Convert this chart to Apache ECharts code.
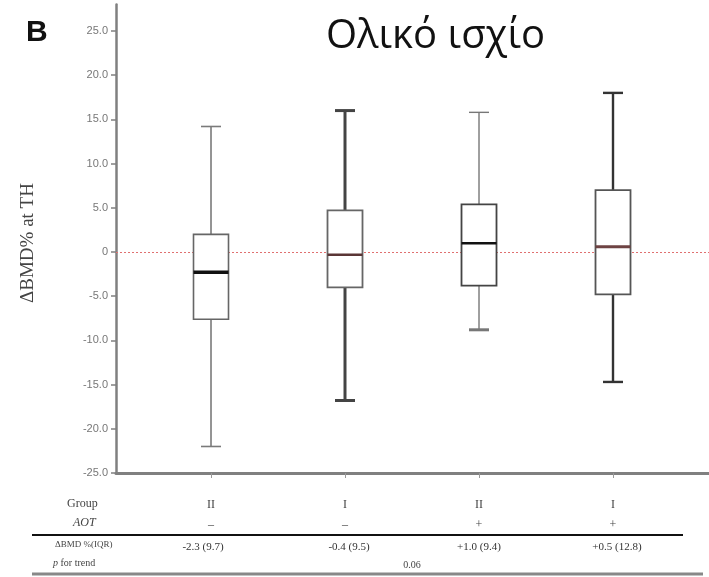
<!DOCTYPE html>
<html>
<head>
<meta charset="utf-8">
<script src="https://cdn.jsdelivr.net/npm/echarts@6/dist/echarts.min.js"></script>
<style>html,body{margin:0;padding:0;background:#fff}#c{width:709px;height:577px}</style>
</head>
<body>
<div id="c"></div>
<script>
// ---- data ----
const positions = [1, 2, 3, 4];
const groups = ['II', 'I', 'II', 'I'];
const aot = ['\u2013', '\u2013', '+', '+'];
const whiskerHigh = [14.2, 16.0, 15.8, 18.0];
const q3 = [2.0, 4.7, 5.4, 7.0];
const median = [-2.3, -0.3, 1.0, 0.6];
const q1 = [-7.6, -4.0, -3.8, -4.8];
const whiskerLow = [-22.0, -16.8, -8.8, -14.7];
const deltaBMD = ['-2.3 (9.7)', '-0.4 (9.5)', '+1.0 (9.4)', '+0.5 (12.8)'];
const pTrend = '0.06';
const yTicks = [-25, -20, -15, -10, -5, 0, 5, 10, 15, 20, 25];

// ---- styles (kept separate from data) ----
const boxStyles = [
  {whisker: '#7a7a7a', whiskerW: 1.6, box: '#666', boxW: 1.6, med: '#111', medW: 3.5, capLowW: 1.6},
  {whisker: '#444', whiskerW: 3, box: '#666', boxW: 1.8, med: '#5a3535', medW: 2.5, capLowW: 3},
  {whisker: '#777', whiskerW: 1.4, box: '#444', boxW: 1.8, med: '#111', medW: 2.5, capLowW: 3},
  {whisker: '#333', whiskerW: 2.4, box: '#555', boxW: 1.8, med: '#6e4343', medW: 3, capLowW: 2.4}
];

const boxData = positions.map((p, i) => [p, whiskerLow[i], q1[i], median[i], q3[i], whiskerHigh[i]]);

const chart = echarts.init(document.getElementById('c'), null, {renderer: 'canvas'});
const serif = '"Liberation Serif","DejaVu Serif",serif';

function renderItem(params, api) {
  const i = params.dataIndex;
  const st = boxStyles[i];
  const x = api.coord([api.value(0), 0])[0];
  const yLow = api.coord([0, api.value(1)])[1];
  const yQ1 = api.coord([0, api.value(2)])[1];
  const yMed = api.coord([0, api.value(3)])[1];
  const yQ3 = api.coord([0, api.value(4)])[1];
  const yHigh = api.coord([0, api.value(5)])[1];
  const hw = 17.5, cw = 10;
  const line = (x1, y1, x2, y2, c, w) => ({type: 'line', shape: {x1, y1, x2, y2}, style: {stroke: c, lineWidth: w}});
  return {
    type: 'group',
    children: [
      line(x, yHigh, x, yQ3, st.whisker, st.whiskerW),
      line(x, yQ1, x, yLow, st.whisker, st.whiskerW),
      line(x - cw, yHigh, x + cw, yHigh, st.whisker, st.whiskerW),
      line(x - cw, yLow, x + cw, yLow, st.whisker, st.capLowW),
      {type: 'rect', shape: {x: x - hw, y: yQ3, width: hw * 2, height: yQ1 - yQ3}, style: {fill: '#fff', stroke: st.box, lineWidth: st.boxW}},
      line(x - hw, yMed, x + hw, yMed, st.med, st.medW)
    ]
  };
}

const option = {
  animation: false,
  backgroundColor: '#fff',
  title: [
    {text: 'B', left: 21, top: 13, textStyle: {fontFamily: '"Liberation Sans",Arial,sans-serif', fontSize: 30, fontWeight: 'bold', color: '#111'}},
    {text: 'Ολικό ισχίο', left: 321, top: 12, textStyle: {fontFamily: '"Open Sans","Noto Sans",sans-serif', fontSize: 40, fontWeight: 'normal', color: '#111'}}
  ],
  grid: {left: 116, right: 0, top: 4.5, bottom: 104, containLabel: false},
  xAxis: {
    type: 'value', min: 0.291, max: 4.7164,
    splitLine: {show: false},
    axisLine: {show: true, onZero: false, lineStyle: {color: '#808080', width: 3}},
    axisTick: {show: true, customValues: positions, length: 5, lineStyle: {color: '#999', width: 1}},
    axisLabel: {
      show: true, customValues: positions, margin: 22,
      formatter: v => groups[v - 1] + '\n' + aot[v - 1],
      fontFamily: serif, fontSize: 12, color: '#444', lineHeight: 20
    }
  },
  yAxis: {
    type: 'value', min: -25, max: 28,
    splitLine: {show: false},
    axisLine: {show: true, onZero: false, lineStyle: {color: '#808080', width: 2.5}},
    axisTick: {show: true, customValues: yTicks, length: 5, lineStyle: {color: '#808080', width: 1.5}},
    axisLabel: {
      customValues: yTicks, margin: 8,
      formatter: v => v === 0 ? '0' : v.toFixed(1),
      fontFamily: '"Liberation Sans",Arial,sans-serif', fontSize: 11, color: '#777'
    }
  },
  series: [{
    type: 'custom',
    renderItem: renderItem,
    data: boxData,
    encode: {x: 0, y: [1, 2, 3, 4, 5]},
    z: 3,
    markLine: {
      silent: true, symbol: 'none', label: {show: false},
      lineStyle: {color: '#e07070', type: [2, 2], width: 1},
      data: [{yAxis: 0}],
      z: 2
    }
  }]
};
chart.setOption(option);

// table below the plot and axis title
const rowY = {group: 506, aot: 525, sep1: 535, bmd: 547, p: 565, sep2: 574};
const graphics = [
  {type: 'text', x: 28, y: 243, rotation: Math.PI / 2, style: {text: 'ΔBMD% at TH', font: '19px ' + serif, fill: '#444', textAlign: 'center', textVerticalAlign: 'middle'}},
  {type: 'text', left: 67, top: rowY.group - 8, style: {text: 'Group', font: '12px ' + serif, fill: '#444'}},
  {type: 'text', left: 73, top: rowY.aot - 8, style: {text: 'AOT', font: 'italic 12px ' + serif, fill: '#444'}},
  {type: 'line', shape: {x1: 32, y1: rowY.sep1, x2: 683, y2: rowY.sep1}, style: {stroke: '#111', lineWidth: 2}},
  {type: 'text', left: 55, top: rowY.bmd - 7, style: {text: 'ΔBMD %(IQR)', font: '9px ' + serif, fill: '#444'}},
  {type: 'text', left: 53, top: rowY.p - 7, style: {text: '{i|p} for trend', font: '10px ' + serif, fill: '#444', rich: {i: {fontStyle: 'italic', fontFamily: serif, fontSize: 10, fill: '#444'}}}},
  {type: 'line', shape: {x1: 32, y1: rowY.sep2, x2: 703, y2: rowY.sep2}, style: {stroke: '#888', lineWidth: 3}}
];
const bmdShift = [-8, 4, 0, 4];
positions.forEach((p, i) => {
  const px = chart.convertToPixel({xAxisIndex: 0}, p);
  graphics.push({type: 'text', x: px + bmdShift[i], y: rowY.bmd, style: {text: deltaBMD[i], font: '11px ' + serif, fill: '#333', textAlign: 'center', textVerticalAlign: 'middle'}});
});
const pMid = (chart.convertToPixel({xAxisIndex: 0}, positions[1]) + chart.convertToPixel({xAxisIndex: 0}, positions[2])) / 2;
graphics.push({type: 'text', x: pMid, y: rowY.p, style: {text: pTrend, font: '10px ' + serif, fill: '#444', textAlign: 'center', textVerticalAlign: 'middle'}});
chart.setOption({graphic: graphics});
</script>
</body>
</html>
